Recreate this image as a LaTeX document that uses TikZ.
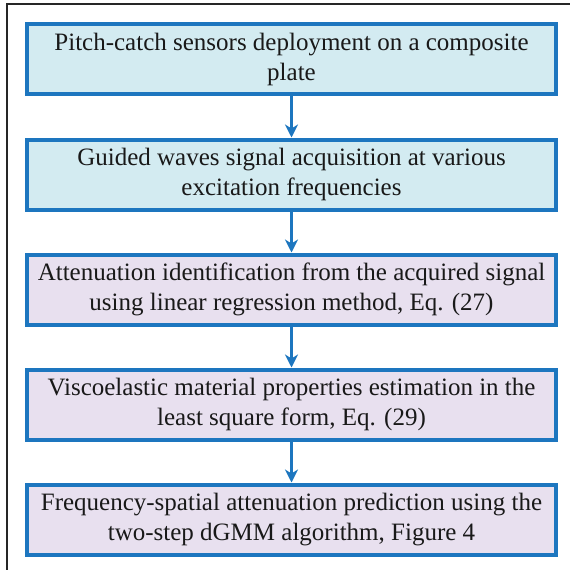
\documentclass[tikz,border=0pt]{standalone}
\usepackage{fontspec}
\setmainfont{Liberation Serif}
\usetikzlibrary{arrows.meta}
\definecolor{bblue}{HTML}{1D76BF}
\definecolor{cyanfill}{HTML}{D3EBF1}
\definecolor{lavfill}{HTML}{E8E0EF}
\tikzset{
  stepbox/.style={draw=bblue, line width=4pt, minimum width=529pt, minimum height=70pt,
    align=center, inner sep=0pt, font=\fontsize{25}{30}\selectfont, text=black!90},
  cbox/.style={stepbox, fill=cyanfill},
  lbox/.style={stepbox, fill=lavfill},
  flow/.style={draw=bblue, line width=2.6pt, -{Stealth[length=13pt,width=13pt,inset=4pt]}}
}
\begin{document}
\begin{tikzpicture}[x=1pt,y=-1pt]
\useasboundingbox (0,0) rectangle (570,570);
\draw[line width=1.5pt, black!85] (7,570) -- (7,4) -- (570,4);
\node[cbox] (b1) at (291.5,59) {Pitch-catch sensors deployment on a composite\\plate};
\node[cbox] (b2) at (291.5,174.5) {Guided waves signal acquisition at various\\excitation frequencies};
\node[lbox] (b3) at (291.5,289.5) {Attenuation identification from the acquired signal\\using linear regression method, Eq. (27)};
\node[lbox] (b4) at (291.5,404.5) {Viscoelastic material properties estimation in the\\least square form, Eq. (29)};
\node[lbox] (b5) at (291.5,519.5) {Frequency-spatial attenuation prediction using the\\two-step dGMM algorithm, Figure 4};
\draw[flow] (b1) -- (b2);
\draw[flow] (b2) -- (b3);
\draw[flow] (b3) -- (b4);
\draw[flow] (b4) -- (b5);
\end{tikzpicture}
\end{document}
